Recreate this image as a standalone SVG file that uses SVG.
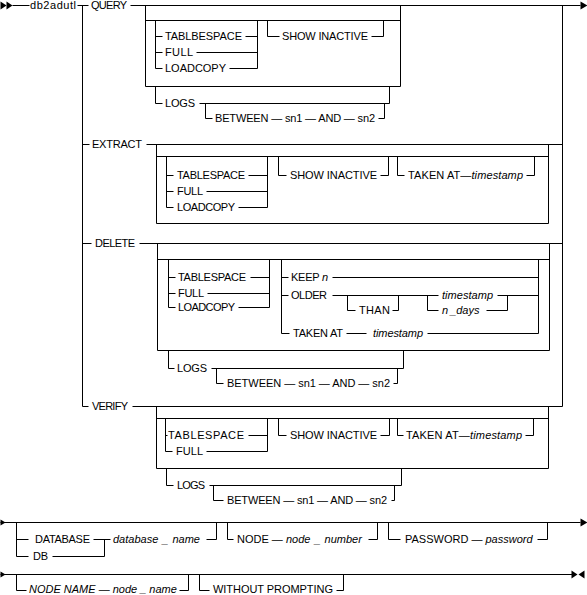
<svg xmlns="http://www.w3.org/2000/svg" width="587" height="595" viewBox="0 0 587 595">
<style>
text{font-family:"Liberation Sans",Arial,sans-serif;font-size:11px;fill:#000}
.i{font-style:italic}
#connectors path{fill:none;stroke:#000;stroke-width:1}
#connectors polygon{fill:#000;stroke:none}
</style>
<rect width="587" height="595" fill="#fff"/>
<g id="connectors" transform="translate(0.5,0.5)">
<polygon points="0,1 6,5 0,9"/>
<polygon points="6,1 12,5 6,9"/>
<path d="M12 5 H29 M77 5 H88 M82 5 V406 H88 M82 144 H89 M82 243 H91 M130 5 H580 M562 5 V406 M146 144 H562 M139 243 H562 M132 406 H562"/>
<polygon points="580,1 587,5 580,9"/>
<!-- QUERY -->
<path d="M145 5 V86 H400 V5 M145 20 H400 M155 20 V68 H162 M155 36 H162 M155 52 H162 M245 36 H257 M196 52 H257 M229 68 H257 M257 20 V68 M267 20 V36 H279 M371 36 H383 V20 M155 86 V103 H162 M199 103 H389 V86 M205 103 V118 H212 M378 118 H384 V103"/>
<!-- EXTRACT -->
<path d="M156 144 V223 H548 V144 M156 156 H548 M166 156 V207 H173 M166 175 H173 M166 191 H173 M248 175 H267 M206 191 H267 M238 207 H267 M267 156 V207 M278 156 V175 H286 M380 175 H388 V156 M397 156 V175 H404 M526 175 H534 V156"/>
<!-- DELETE -->
<path d="M157 243 V350 H549 V243 M157 259 H549 M168 259 V307 H175 M168 277 H175 M168 293 H175 M250 277 H269 M207 293 H269 M238 307 H269 M269 259 V307 M281 259 V333 H289 M281 277 H288 M281 295 H288 M332 277 H538 M332 295 H438 M497 295 H538 M347 295 V310 H355 M392 310 H398 V295 M427 295 V310 H438 M486 310 H507 V295 M346 333 H366 M427 333 H538 M538 259 V333 M168 350 V368 H174 M211 368 H403 V350 M216 368 V383 H223 M393 383 H397 V368"/>
<!-- VERIFY -->
<path d="M156 406 V468 H548 V406 M156 418 H548 M165 418 V451 H172 M165 435 H167 M248 435 H267 M206 451 H267 M267 418 V451 M278 418 V435 H286 M380 435 H389 V418 M397 418 V435 H403 M525 435 H533 V418 M166 468 V485 H173 M209 485 H401 V468 M213 485 V500 H223 M391 500 H394 V485"/>
<!-- bottom row 1 -->
<polygon points="0,519 5,522 0,525"/>
<path d="M0 522 H580 M16 522 V556 H28 M16 539 H28 M93 539 H110 M104 539 V556 M52 556 H104 M206 539 H216 V522 M227 522 V539 H233 M368 539 H377 V522 M388 522 V539 H400 M537 539 H547 V522"/>
<polygon points="580,518 587,522 580,526"/>
<!-- bottom row 2 -->
<polygon points="0,571 5,574 0,577"/>
<path d="M0 574 H572 M16 574 V590 H26 M179 590 H188 V574 M199 574 V590 H209 M336 590 H343 V574"/>
<polygon points="571,570 577,574 571,578"/>
<polygon points="584,570 578,574 584,578"/>
</g>
<g id="n-db2adutl"><text x="30" y="9" textLength="46">db2adutl</text></g>
<g id="n-query"><text x="91" y="9" textLength="36">QUERY</text></g>
<g id="n-q-tablbespace"><text x="165" y="40" textLength="77">TABLBESPACE</text></g>
<g id="n-q-full"><text x="165" y="56" textLength="28">FULL</text></g>
<g id="n-q-loadcopy"><text x="165" y="72" textLength="61">LOADCOPY</text></g>
<g id="n-q-showinactive"><text x="282" y="40" textLength="86">SHOW INACTIVE</text></g>
<g id="n-q-logs"><text x="165" y="107" textLength="30">LOGS</text></g>
<g id="n-q-between"><text x="215" y="122" textLength="160">BETWEEN — sn1 — AND — sn2</text></g>
<g id="n-extract"><text x="92" y="148" textLength="50">EXTRACT</text></g>
<g id="n-e-tablespace"><text x="177" y="179" textLength="68">TABLESPACE</text></g>
<g id="n-e-full"><text x="177" y="195" textLength="26">FULL</text></g>
<g id="n-e-loadcopy"><text x="177" y="211" textLength="58">LOADCOPY</text></g>
<g id="n-e-showinactive"><text x="290" y="179" textLength="87">SHOW INACTIVE</text></g>
<g id="n-e-takenat"><text x="408" y="179" textLength="115">TAKEN AT—<tspan class="i">timestamp</tspan></text></g>
<g id="n-delete"><text x="95" y="247" textLength="40">DELETE</text></g>
<g id="n-d-tablespace"><text x="178" y="281" textLength="68">TABLESPACE</text></g>
<g id="n-d-full"><text x="178" y="297" textLength="26">FULL</text></g>
<g id="n-d-loadcopy"><text x="178" y="311" textLength="57">LOADCOPY</text></g>
<g id="n-d-keep"><text x="291" y="281" textLength="37">KEEP <tspan class="i">n</tspan></text></g>
<g id="n-d-older"><text x="291" y="299" textLength="36">OLDER</text></g>
<g id="n-d-than"><text x="359" y="314" textLength="31">THAN</text></g>
<g id="n-d-timestamp1"><text class="i" x="442" y="299" textLength="51">timestamp</text></g>
<g id="n-d-ndays"><text class="i" x="442" y="314">n<tspan dx="2">_days</tspan></text></g>
<g id="n-d-takenat"><text x="293" y="337" textLength="50">TAKEN AT</text></g>
<g id="n-d-timestamp2"><text class="i" x="373" y="337" textLength="50">timestamp</text></g>
<g id="n-d-logs"><text x="177" y="372" textLength="30">LOGS</text></g>
<g id="n-d-between"><text x="227" y="387" textLength="163">BETWEEN — sn1 — AND — sn2</text></g>
<g id="n-verify"><text x="92" y="410" textLength="36">VERIFY</text></g>
<g id="n-v-tablespace"><text x="168" y="439" textLength="76">TABLESPACE</text></g>
<g id="n-v-full"><text x="176" y="455" textLength="27">FULL</text></g>
<g id="n-v-showinactive"><text x="290" y="439" textLength="87">SHOW INACTIVE</text></g>
<g id="n-v-takenat"><text x="406" y="439" textLength="116">TAKEN AT—<tspan class="i">timestamp</tspan></text></g>
<g id="n-v-logs"><text x="177" y="489" textLength="28">LOGS</text></g>
<g id="n-v-between"><text x="227" y="504" textLength="160">BETWEEN — sn1 — AND — sn2</text></g>
<g id="n-database"><text x="35" y="543" textLength="55">DATABASE</text></g>
<g id="n-db"><text x="33" y="560" textLength="15">DB</text></g>
<g id="n-database-name"><text class="i" x="113" y="543">database<tspan dx="4">_</tspan><tspan dx="4">name</tspan></text></g>
<g id="n-node"><text x="237" y="543">NODE — <tspan class="i">node<tspan dx="4">_</tspan><tspan dx="4">number</tspan></tspan></text></g>
<g id="n-password"><text x="405" y="543">PASSWORD — <tspan class="i">password</tspan></text></g>
<g id="n-nodename"><text class="i" x="29" y="593">NODE NAME — node<tspan dx="3" dy="-1.5">_</tspan><tspan dx="3" dy="1.5">name</tspan></text></g>
<g id="n-without"><text x="213" y="593" textLength="120">WITHOUT PROMPTING</text></g>
</svg>
